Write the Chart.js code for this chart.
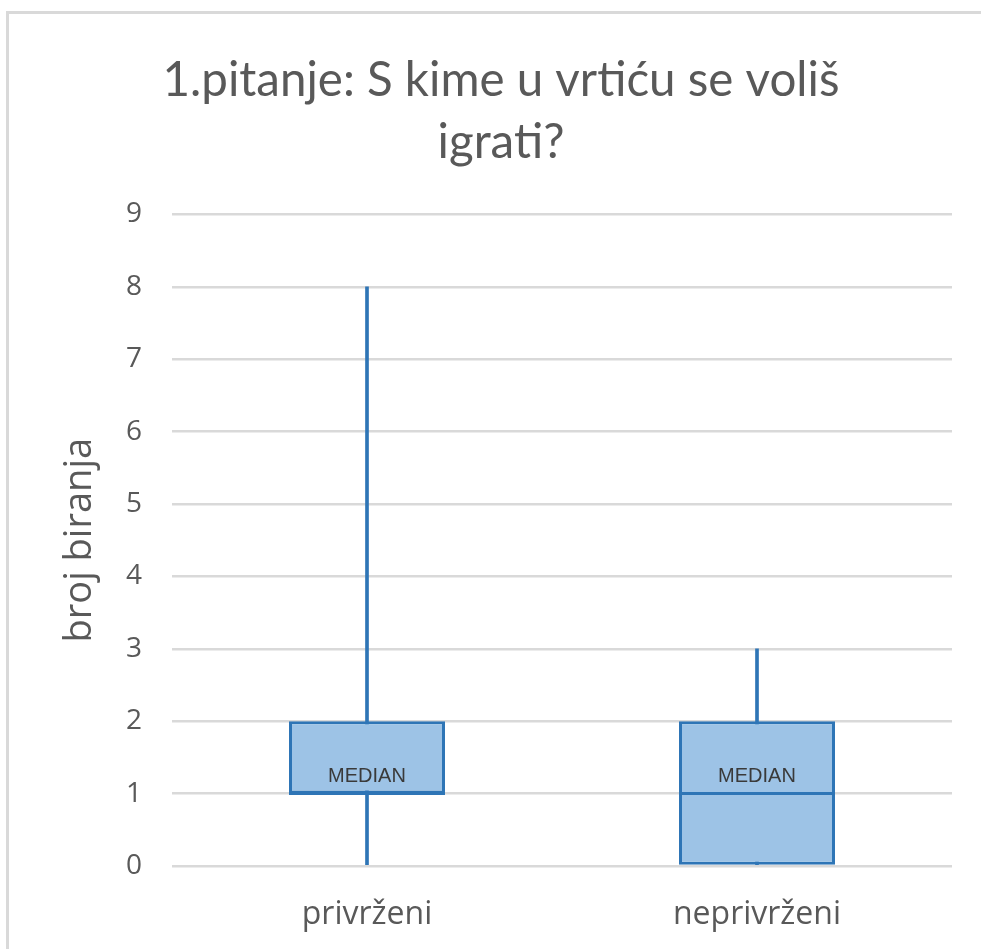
<!DOCTYPE html>
<html>
<head>
<meta charset="utf-8">
<script src="https://cdn.jsdelivr.net/npm/chart.js@4"></script>
<style>
  html, body { margin: 0; padding: 0; background: #fff; }
  #frame {
    position: absolute; left: 6px; top: 11px; width: 1000px; height: 1000px;
    border-top: 3px solid #d9d9d9; border-left: 3px solid #d9d9d9;
  }
  #wrap { position: absolute; left: 0; top: 0; width: 981px; height: 949px; }
</style>
</head>
<body>
<div id="frame"></div>
<div id="wrap"><canvas id="myChart"></canvas></div>
<script>
// box plot values
const categories = ["privrženi", "neprivrženi"];
const minValues = [0, 0];
const q1Values = [1, 0];
const medianValues = [1, 1];
const q3Values = [2, 2];
const maxValues = [8, 3];
const yTicks = [0, 1, 2, 3, 4, 5, 6, 7, 8, 9];

const boxFill = "#9dc3e6";
const boxLine = "#2e75b6";

// draws the median line and its label on top of each box
const medianPlugin = {
    id: "medianLine",
    afterDatasetsDraw(chart) {
        const ctx = chart.ctx;
        const xScale = chart.scales.x;
        const yScale = chart.scales.y;
        const meta = chart.getDatasetMeta(1);
        ctx.save();
        meta.data.forEach((bar, i) => {
            const half = bar.width / 2;
            const x = xScale.getPixelForValue(i);
            const y = yScale.getPixelForValue(medianValues[i]);
            ctx.strokeStyle = boxLine;
            ctx.lineWidth = 3;
            ctx.beginPath();
            ctx.moveTo(x - half, y);
            ctx.lineTo(x + half, y);
            ctx.stroke();
            ctx.fillStyle = "#3a3a3a";
            ctx.font = "20px 'Liberation Sans'";
            ctx.textAlign = "center";
            ctx.textBaseline = "middle";
            ctx.fillText("MEDIAN", x, y - 17);
        });
        ctx.restore();
    }
};

const ctx = document.getElementById("myChart").getContext("2d");
const myChart = new Chart(ctx, {
    type: "bar",
    data: {
        labels: categories,
        datasets: [
            {
                label: "whisker",
                data: categories.map((c, i) => [minValues[i], maxValues[i]]),
                backgroundColor: boxLine,
                borderWidth: 0,
                barThickness: 3,
                grouped: false,
                order: 2
            },
            {
                label: "box",
                data: categories.map((c, i) => [q1Values[i], q3Values[i]]),
                backgroundColor: boxFill,
                borderColor: boxLine,
                borderWidth: 3,
                borderSkipped: false,
                barPercentage: 0.4,
                categoryPercentage: 1,
                grouped: false,
                order: 1
            }
        ]
    },
    options: {
        responsive: true,
        maintainAspectRatio: false,
        animation: false,
        layout: { padding: { top: 49, left: 50, right: 29, bottom: 0 } },
        plugins: {
            legend: { display: false },
            tooltip: { enabled: false },
            title: {
                display: true,
                text: ["1.pitanje: S kime u vrtiću se voliš", "igrati?"],
                color: "#595959",
                font: { family: "Lato", size: 47.5, weight: "normal", lineHeight: 1.32 },
                padding: { top: 0, bottom: 40 }
            }
        },
        scales: {
            x: {
                afterFit: (scale) => { scale.height = 83; },
                grid: { display: false },
                border: { display: false },
                ticks: {
                    color: "#595959",
                    font: { family: "Open Sans", size: 32 },
                    padding: 22
                }
            },
            y: {
                min: 0,
                max: 9,
                afterFit: (scale) => { scale.width = 122; },
                afterBuildTicks: (scale) => {
                    scale.ticks = yTicks.map(v => ({ value: v }));
                },
                grid: { color: "#d9d9d9", lineWidth: 2.5, drawTicks: false },
                border: { display: false },
                ticks: {
                    color: "#595959",
                    font: { family: "Open Sans", size: 28 },
                    padding: 30
                },
                title: {
                    display: true,
                    text: "broj biranja",
                    color: "#595959",
                    font: { family: "Open Sans", size: 38 },
                    padding: { top: 7, bottom: 0 }
                }
            }
        }
    },
    plugins: [medianPlugin]
});
</script>
</body>
</html>
